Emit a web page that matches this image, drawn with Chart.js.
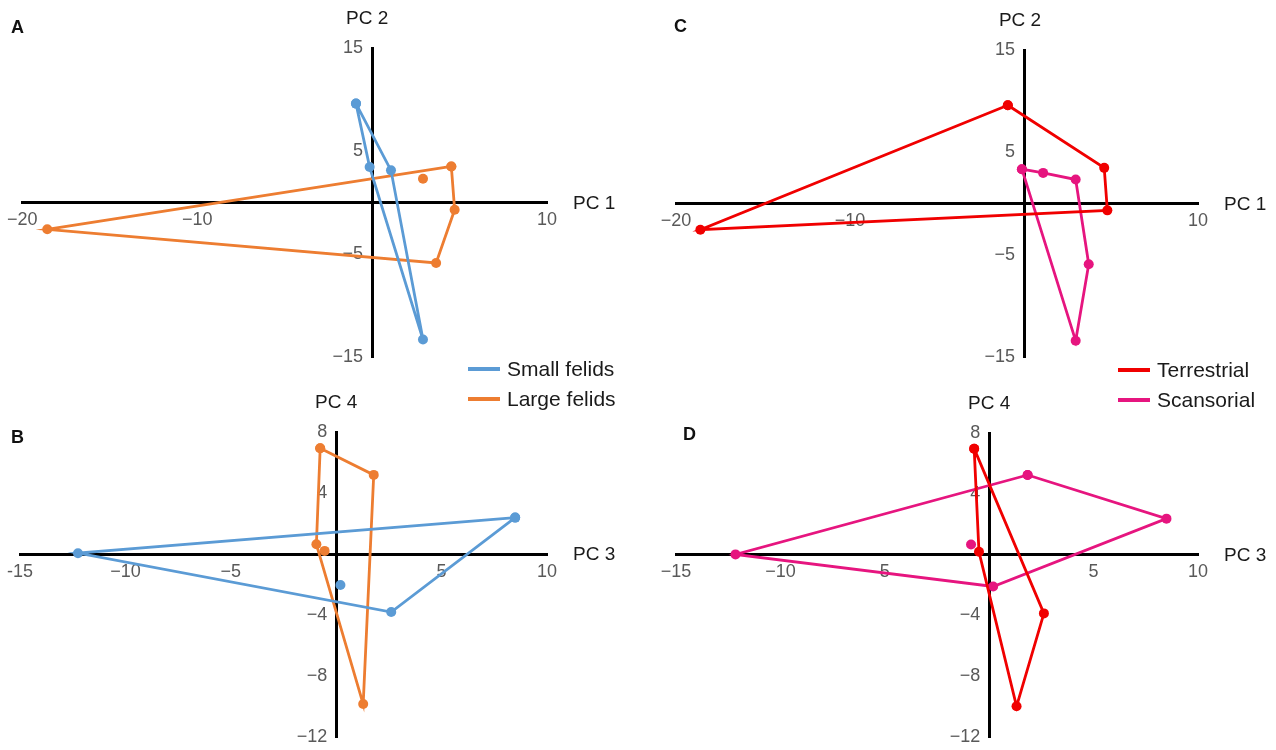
<!DOCTYPE html>
<html>
<head>
<meta charset="utf-8">
<script src="https://cdn.jsdelivr.net/npm/chart.js@4.4.1/dist/chart.umd.min.js"></script>
<style>
  html, body { margin: 0; padding: 0; background: #fff; overflow: hidden; }
  body { width: 1276px; height: 750px; position: relative; font-family: "Liberation Sans", Arial, sans-serif; }
  .panel { position: absolute; }
  .letter { position: absolute; font-weight: bold; font-size: 18px; color: #111; line-height: 1; }
  .legend { position: absolute; font-size: 21px; color: #1a1a1a; }
  .legend div { height: 30px; display: flex; align-items: center; }
  .legend span.swatch { display: inline-block; width: 32px; height: 4px; margin-right: 7px; }
</style>
</head>
<body>
<div class="panel" style="left:0;top:0;width:640px;height:375px"><canvas id="chartA"></canvas></div>
<div class="panel" style="left:640px;top:0;width:636px;height:375px"><canvas id="chartC"></canvas></div>
<div class="panel" style="left:0;top:370px;width:640px;height:385px"><canvas id="chartB"></canvas></div>
<div class="panel" style="left:640px;top:370px;width:636px;height:385px"><canvas id="chartD"></canvas></div>

<div class="letter" style="left:11px;top:18px">A</div>
<div class="letter" style="left:11px;top:428px">B</div>
<div class="letter" style="left:674px;top:17px">C</div>
<div class="letter" style="left:683px;top:425px">D</div>

<div class="legend" style="left:468px;top:354px">
  <div><span class="swatch" style="background:#5B9BD5"></span>Small felids</div>
  <div><span class="swatch" style="background:#ED7D31"></span>Large felids</div>
</div>
<div class="legend" style="left:1118px;top:355px">
  <div><span class="swatch" style="background:#F00000"></span>Terrestrial</div>
  <div><span class="swatch" style="background:#E6157F"></span>Scansorial</div>
</div>

<script>
// tick positions and labels
const pc1Ticks = [-20, -10, 10];
const pc1TickLabels = ['−20', '−10', '10'];
const pc2Ticks = [-15, -5, 5, 15];
const pc2TickLabels = ['−15', '−5', '5', '15'];
const pc3Ticks = [-15, -10, -5, 5, 10];
const pc3TickLabelsB = ['-15', '−10', '−5', '5', '10'];
const pc3TickLabelsD = ['−15', '−10', '5', '5', '10'];
const pc4Ticks = [-12, -8, -4, 4, 8];
const pc4TickLabels = ['−12', '−8', '−4', '4', '8'];

// PC1 / PC2 scores (hull outlines closed back to the first point)
const smallFelidsA = [[-0.92, 9.6], [-0.14, 3.44], [2.91, -13.3], [1.08, 3.12], [-0.92, 9.6]];
const largeFelidsA = [[4.53, 3.5], [4.72, -0.71], [3.66, -5.87], [-18.57, -2.6], [4.53, 3.5]];
const largeFelidsAInner = [[2.91, 2.3]];

// PC3 / PC4 scores
const smallFelidsB = [[8.49, 2.39], [-12.25, 0.06], [2.61, -3.8], [8.49, 2.39]];
const smallFelidsBInner = [[0.2, -2.03]];
const largeFelidsB = [[-0.76, 6.94], [1.78, 5.19], [1.28, -9.83], [-0.94, 0.64], [-0.76, 6.94]];
const largeFelidsBInner = [[-0.55, 0.21]];

const terrestrialC = [[-0.93, 9.6], [4.61, 3.49], [4.79, -0.66], [-18.6, -2.55], [-0.93, 9.6]];
const scansorialC = [[-0.12, 3.36], [1.1, 3.0], [2.97, 2.35], [3.72, -5.92], [2.97, -13.4], [-0.12, 3.36]];

const terrestrialD = [[-0.72, 6.97], [2.62, -3.86], [1.31, -9.97], [-0.49, 0.19], [-0.72, 6.97]];
const scansorialD = [[1.84, 5.24], [8.49, 2.37], [0.19, -2.09], [-12.15, 0.02], [1.84, 5.24]];
const scansorialDInner = [[-0.87, 0.67]];

const BLUE = '#5B9BD5';
const ORANGE = '#ED7D31';
const RED = '#F00000';
const PINK = '#E6157F';

const toPoints = arr => arr.map(([x, y]) => ({x, y}));

function series(arr, color, line) {
    return {
        data: toPoints(arr),
        showLine: line,
        borderColor: color,
        backgroundColor: color,
        borderWidth: 2.8,
        pointRadius: 5,
        pointBorderWidth: 0,
        pointBackgroundColor: color,
    };
}

// axis titles drawn next to the crossing axes
const axisTitles = {
    id: 'axisTitles',
    afterDraw(chart, args, opts) {
        const {ctx, chartArea, scales} = chart;
        const x0 = scales.x.getPixelForValue(0);
        const y0 = scales.y.getPixelForValue(0);
        ctx.save();
        ctx.fillStyle = '#1a1a1a';
        ctx.font = '19px "Liberation Sans", Arial, sans-serif';
        ctx.textBaseline = 'middle';
        ctx.textAlign = 'center';
        ctx.fillText(opts.y, x0 + opts.dx, chartArea.top - 29);
        ctx.textAlign = 'left';
        ctx.fillText(opts.x, chartArea.right + 26, y0 + 1);
        ctx.restore();
    }
};

function axis(min, max, ticks, labels, pos, gap) {
    return {
        type: 'linear',
        min: min,
        max: max,
        position: pos,
        grid: {display: false, drawTicks: false},
        border: {display: true, color: '#000', width: 3},
        afterBuildTicks: scale => { scale.ticks = ticks.map(v => ({value: v})); },
        ticks: {
            autoSkip: false,
            maxRotation: 0,
            padding: 7,
            color: '#595959',
            font: {size: 18, family: '"Liberation Sans", Arial, sans-serif'},
            callback: (value, index) => labels[index] + gap,
        },
    };
}

function makeChart(id, datasets, xAxis, yAxis, titles, padding) {
    new Chart(document.getElementById(id).getContext('2d'), {
        type: 'scatter',
        data: {datasets: datasets},
        options: {
            responsive: true,
            maintainAspectRatio: false,
            animation: false,
            layout: {padding: padding},
            plugins: {legend: {display: false}, tooltip: {enabled: false}, axisTitles: titles},
            scales: {x: xAxis, y: yAxis},
        },
        plugins: [axisTitles],
    });
}

const YGAP = '\u2002';

makeChart('chartA', [
    series(smallFelidsA, BLUE, true),
    series(largeFelidsA, ORANGE, true),
    series(largeFelidsAInner, ORANGE, false),
], axis(-20, 10, pc1Ticks, pc1TickLabels, {y: 0}, ''), axis(-15, 15, pc2Ticks, pc2TickLabels, {x: 0}, YGAP),
    {x: 'PC 1', y: 'PC 2', dx: -5}, {left: 20, right: 93, top: 48, bottom: 18});

makeChart('chartB', [
    series(smallFelidsB, BLUE, true),
    series(smallFelidsBInner, BLUE, false),
    series(largeFelidsB, ORANGE, true),
    series(largeFelidsBInner, ORANGE, false),
], axis(-15, 10, pc3Ticks, pc3TickLabelsB, {y: 0}, ''), axis(-12, 8, pc4Ticks, pc4TickLabels, {x: 0}, YGAP),
    {x: 'PC 3', y: 'PC 4', dx: 0}, {left: 20, right: 93, top: 62, bottom: 14});

makeChart('chartC', [
    series(terrestrialC, RED, true),
    series(scansorialC, PINK, true),
], axis(-20, 10, pc1Ticks, pc1TickLabels, {y: 0}, ''), axis(-15, 15, pc2Ticks, pc2TickLabels, {x: 0}, YGAP),
    {x: 'PC 1', y: 'PC 2', dx: -4}, {left: 36, right: 78, top: 50, bottom: 17});

makeChart('chartD', [
    series(terrestrialD, RED, true),
    series(scansorialD, PINK, true),
    series(scansorialDInner, PINK, false),
], axis(-15, 10, pc3Ticks, pc3TickLabelsD, {y: 0}, ''), axis(-12, 8, pc4Ticks, pc4TickLabels, {x: 0}, YGAP),
    {x: 'PC 3', y: 'PC 4', dx: 0}, {left: 36, right: 78, top: 63, bottom: 13});
</script>
</body>
</html>
